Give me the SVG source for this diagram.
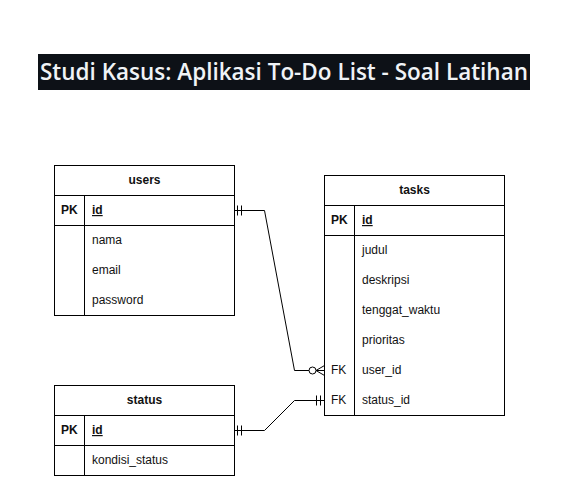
<svg xmlns="http://www.w3.org/2000/svg" width="565" height="501" viewBox="0 0 565 501">
<style>
.box{fill:#fff;stroke:#000;stroke-width:1}
.ln{stroke:#000;stroke-width:1;fill:none}
.t{font-family:"Liberation Sans",Arial,sans-serif;font-size:12px;fill:#111}
.h{font-weight:bold;text-anchor:middle}
.b{font-weight:bold}
.u{text-decoration:underline}
.title{font-family:"Open Sans","Noto Sans",sans-serif;font-size:23px;font-weight:600;fill:#f0f3f6}
</style>
<rect width="565" height="501" fill="#fff"/>
<g id="title">
<rect x="38" y="54" width="492" height="36" fill="#0d1117"/>
<text class="title" x="40" y="79.5" textLength="488" lengthAdjust="spacingAndGlyphs">Studi Kasus: Aplikasi To-Do List - Soal Latihan</text>
</g>
<g id="users">
<rect class="box" x="54.5" y="165.5" width="180" height="150"/>
<line class="ln" x1="54.5" y1="195.5" x2="234.5" y2="195.5"/>
<line class="ln" x1="54.5" y1="225.5" x2="234.5" y2="225.5"/>
<line class="ln" x1="84.5" y1="195.5" x2="84.5" y2="315.5"/>
<text class="t h" x="144.5" y="184">users</text>
<text class="t b" x="61" y="214">PK</text>
<text class="t b u" x="92" y="214">id</text>
<text class="t" x="92" y="244">nama</text>
<text class="t" x="92" y="274">email</text>
<text class="t" x="92" y="304">password</text>
</g>
<g id="tasks">
<rect class="box" x="324.5" y="175.5" width="180" height="240"/>
<line class="ln" x1="324.5" y1="205.5" x2="504.5" y2="205.5"/>
<line class="ln" x1="324.5" y1="235.5" x2="504.5" y2="235.5"/>
<line class="ln" x1="354.5" y1="205.5" x2="354.5" y2="415.5"/>
<text class="t h" x="414.5" y="194">tasks</text>
<text class="t b" x="331" y="224">PK</text>
<text class="t b u" x="362" y="224">id</text>
<text class="t" x="362" y="254">judul</text>
<text class="t" x="362" y="284">deskripsi</text>
<text class="t" x="362" y="314">tenggat_waktu</text>
<text class="t" x="362" y="344">prioritas</text>
<text class="t" x="331" y="374">FK</text>
<text class="t" x="362" y="374">user_id</text>
<text class="t" x="331" y="404">FK</text>
<text class="t" x="362" y="404">status_id</text>
</g>
<g id="status">
<rect class="box" x="54.5" y="385.5" width="180" height="90"/>
<line class="ln" x1="54.5" y1="415.5" x2="234.5" y2="415.5"/>
<line class="ln" x1="54.5" y1="445.5" x2="234.5" y2="445.5"/>
<line class="ln" x1="84.5" y1="415.5" x2="84.5" y2="475.5"/>
<text class="t h" x="144.5" y="404">status</text>
<text class="t b" x="61" y="434">PK</text>
<text class="t b u" x="92" y="434">id</text>
<text class="t" x="92" y="464">kondisi_status</text>
</g>
<g id="connectors">
<path class="ln" d="M234.5 210.5 H264.5 L294.5 370.5 H309"/>
<line class="ln" x1="237.5" y1="205.5" x2="237.5" y2="215.5"/>
<line class="ln" x1="241.5" y1="205.5" x2="241.5" y2="215.5"/>
<circle class="ln" cx="312.5" cy="370.5" r="3.5"/>
<path class="ln" d="M316 370.5 H324.5 M316 370.5 L324.5 365.5 M316 370.5 L324.5 375.5"/>
<path class="ln" d="M234.5 430.5 H264.5 L294.5 400.5 H324.5"/>
<line class="ln" x1="237.5" y1="425.5" x2="237.5" y2="435.5"/>
<line class="ln" x1="241.5" y1="425.5" x2="241.5" y2="435.5"/>
<line class="ln" x1="316.5" y1="395.5" x2="316.5" y2="405.5"/>
<line class="ln" x1="320.5" y1="395.5" x2="320.5" y2="405.5"/>
</g>
</svg>
